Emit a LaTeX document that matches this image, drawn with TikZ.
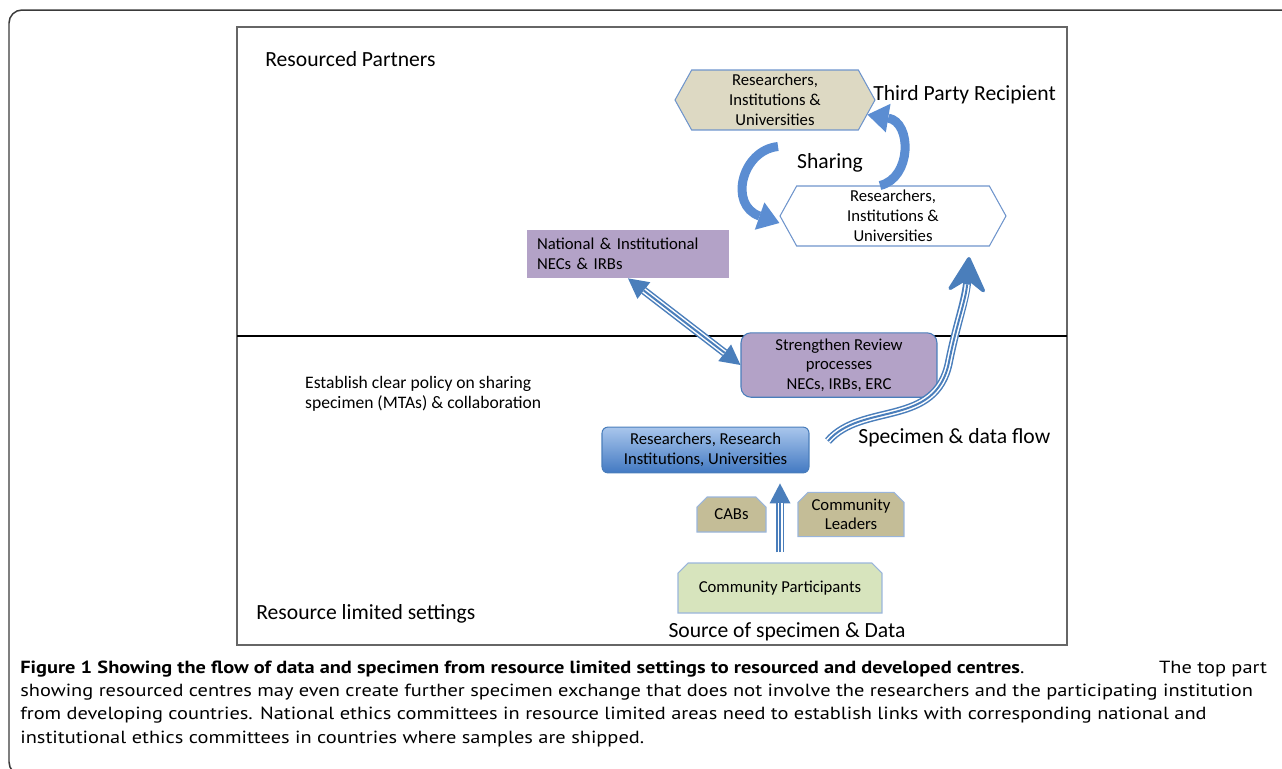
\documentclass[tikz,border=0pt]{standalone}
\usepackage{fontspec}
\setmainfont{Carlito}
\newfontfamily\capfont{PT Sans}
\usetikzlibrary{positioning, arrows.meta, shapes, calc}

\definecolor{flowblue}{HTML}{4A7EBB}
\definecolor{sharblue}{HTML}{5B8DD2}
\definecolor{hexline}{HTML}{6F95CC}
\definecolor{hexfill}{HTML}{DDD9C3}
\definecolor{cabfill}{HTML}{C4BD97}
\definecolor{necfill}{HTML}{B3A2C7}
\definecolor{partfill}{HTML}{D7E4BD}
\definecolor{resdark}{HTML}{4279C2}
\definecolor{reslight}{HTML}{A9C6EC}
\definecolor{frameline}{HTML}{3A3A3A}

\tikzset{
every node/.style = {font = \fontsize{9.5}{11.3}\selectfont},
biglabel/.style = {font = \fontsize{12.3}{14}\selectfont, inner sep = 0pt},
hexbox/.style = {signal, signal to = east and west, signal pointer angle = 122,
   draw = hexline, line width = 0.6pt, minimum width = 4cm, minimum height = 1.2cm,
   align = center, inner sep = 1pt},
necbox/.style = {rectangle, fill = necfill, minimum width = 4.04cm, minimum height = 0.96cm,
   text width = 3.64cm, inner xsep = 0.2cm, align = left},
reviewbox/.style = {rectangle, rounded corners = 0.2cm, fill = necfill, draw = flowblue,
   line width = 0.6pt, minimum width = 3.92cm, minimum height = 1.08cm, align = center,
   font = \fontsize{9.5}{11.1}\selectfont},
resbox/.style = {rectangle, rounded corners = 0.12cm, top color = reslight,
   bottom color = resdark, draw = flowblue, line width = 0.6pt, minimum width = 4.14cm,
   minimum height = 0.88cm, align = center, font = \fontsize{9.5}{11.6}\selectfont},
snipbox/.style = {chamfered rectangle, chamfered rectangle corners = {north west, north east},
   chamfered rectangle xsep = 0.1cm, chamfered rectangle ysep = 0.1cm,
   draw = hexline!70, line width = 0.6pt, align = center, inner sep = 1pt,
   font = \fontsize{9.5}{10.8}\selectfont},
sharearrow/.style = {draw = sharblue, line width = 0.18cm,
   -{Triangle[length = 0.42cm, width = 0.58cm, line width = 0pt]}},
triple/.style 2 args = {draw = flowblue, line width = 0.16cm,
   postaction = {draw = white, line width = 0.1cm, arrows = -, shorten < = #1, shorten > = #2},
   postaction = {draw = flowblue, line width = 0.04cm, arrows = -, shorten < = #1, shorten > = #2}},
captext/.style = {font = \capfont\fontsize{10}{13.3}\selectfont, inner sep = 0pt}
}

\begin{document}
\begin{tikzpicture}[x = 0.02cm, y = -0.02cm]
\useasboundingbox (0,0) rectangle (1282,768);
\clip (0,0) rectangle (1282,768);

%% Frames
\draw [frameline, line width = 0.03cm, rounded corners = 0.26cm] (9,10) rectangle (1300,775);
\draw [gray!80!black, line width = 0.025cm] (237,27) rectangle (1067,645);
\draw [line width = 0.03cm] (237,336) -- (1067,336);

%% Resourced partners
\node [biglabel, anchor = west] (respart) at (265,59) {Resourced Partners};
\node [hexbox, fill = hexfill] (hextop) at (775,100) {Researchers,\\Institutions \&\\Universities};
\node [biglabel, anchor = west] (third) at (873,95) {Third Party Recipient};
\node [biglabel] (sharing) at (830,163) {Sharing};
\node [hexbox, fill = white, minimum width = 4.52cm] (hexlow) at (893,216) {Researchers,\\Institutions \&\\Universities};
\node [necbox] (nec) at (628,254) {National \& Institutional\\NECs \& IRBs};

%% Resource limited settings
\node [reviewbox] (review) at (839,365) {Strengthen Review\\processes\\NECs, IRBs, ERC};
\node [anchor = west, align = left, font = \fontsize{10}{11.4}\selectfont] (policy) at (299,394)
   {Establish clear policy on sharing\\specimen (MTAs) \& collaboration};
\node [resbox] (res) at (705.5,450) {Researchers, Research\\Institutions, Universities};
\node [biglabel, anchor = west] (flowlab) at (858,438) {Specimen \& data flow};
\node [snipbox, fill = cabfill, minimum width = 1.38cm, minimum height = 0.7cm] (cabs) at (731.5,514.5) {CABs};
\node [snipbox, fill = cabfill, minimum width = 2.12cm, minimum height = 0.7cm] (leaders) at (851,514.5) {Community\\Leaders};
\node [snipbox, fill = partfill, minimum width = 4.08cm, minimum height = 1cm] (part) at (780,588) {Community Participants};
\node [biglabel] (source) at (787,632) {Source of specimen \& Data};
\node [biglabel, anchor = west] (limited) at (256,614) {Resource limited settings};

%% Sharing arrows
\draw [sharearrow] ([xshift = 0.06cm, yshift = -0.32cm]hextop.south)
   .. controls (742,150) and (728,205) .. ([yshift = -0.14cm]hexlow.west);
\draw [sharearrow] ([xshift = -0.26cm]hexlow.north)
   .. controls (912,178) and (912,122) .. (hextop.-9);

%% Flows
\coordinate (flowtail) at (828,441);
\coordinate (flowtip) at (969,257);
\draw [triple = {0cm}{0.55cm}, -{Stealth[round, length = 0.8cm, width = 0.86cm, inset = 0.3cm, line width = 2pt]}]
   (flowtail) .. controls (862,402) and (936,428) .. (949,362)
   .. controls (957,322) and (966,300) .. (flowtip);
\draw [triple = {0.4cm}{0.4cm}, {Triangle[length = 0.4cm, width = 0.42cm, line width = 0pt]}-{Triangle[length = 0.4cm, width = 0.42cm, line width = 0pt]}]
   (nec.south) -- (review.west);
\draw [triple = {0.2cm}{0.6cm}, -{Triangle[length = 0.4cm, width = 0.42cm, line width = 0pt]},
   shorten < = 0.2cm, shorten > = 0.2cm] (part.north) -- (part.north |- res.south);

%% Caption, one node per line
\foreach \i/\txt in {
   1/{\makebox[21.5cm][l]{\textbf{Figure 1 Showing the flow of data and specimen from resource limited settings to resourced and developed centres}.\hfill The top part}},
   2/{showing resourced centres may even create further specimen exchange that does not involve the researchers and the participating institution},
   3/{from developing countries. National ethics committees in resource limited areas need to establish links with corresponding national and},
   4/{institutional ethics committees in countries where samples are shipped.}}
   \node [captext, anchor = base west] (cap\i) at (20, {673 + 23.4*(\i - 1)}) {\scalebox{1.16}[1]{\txt}};

\end{tikzpicture}
\end{document}
